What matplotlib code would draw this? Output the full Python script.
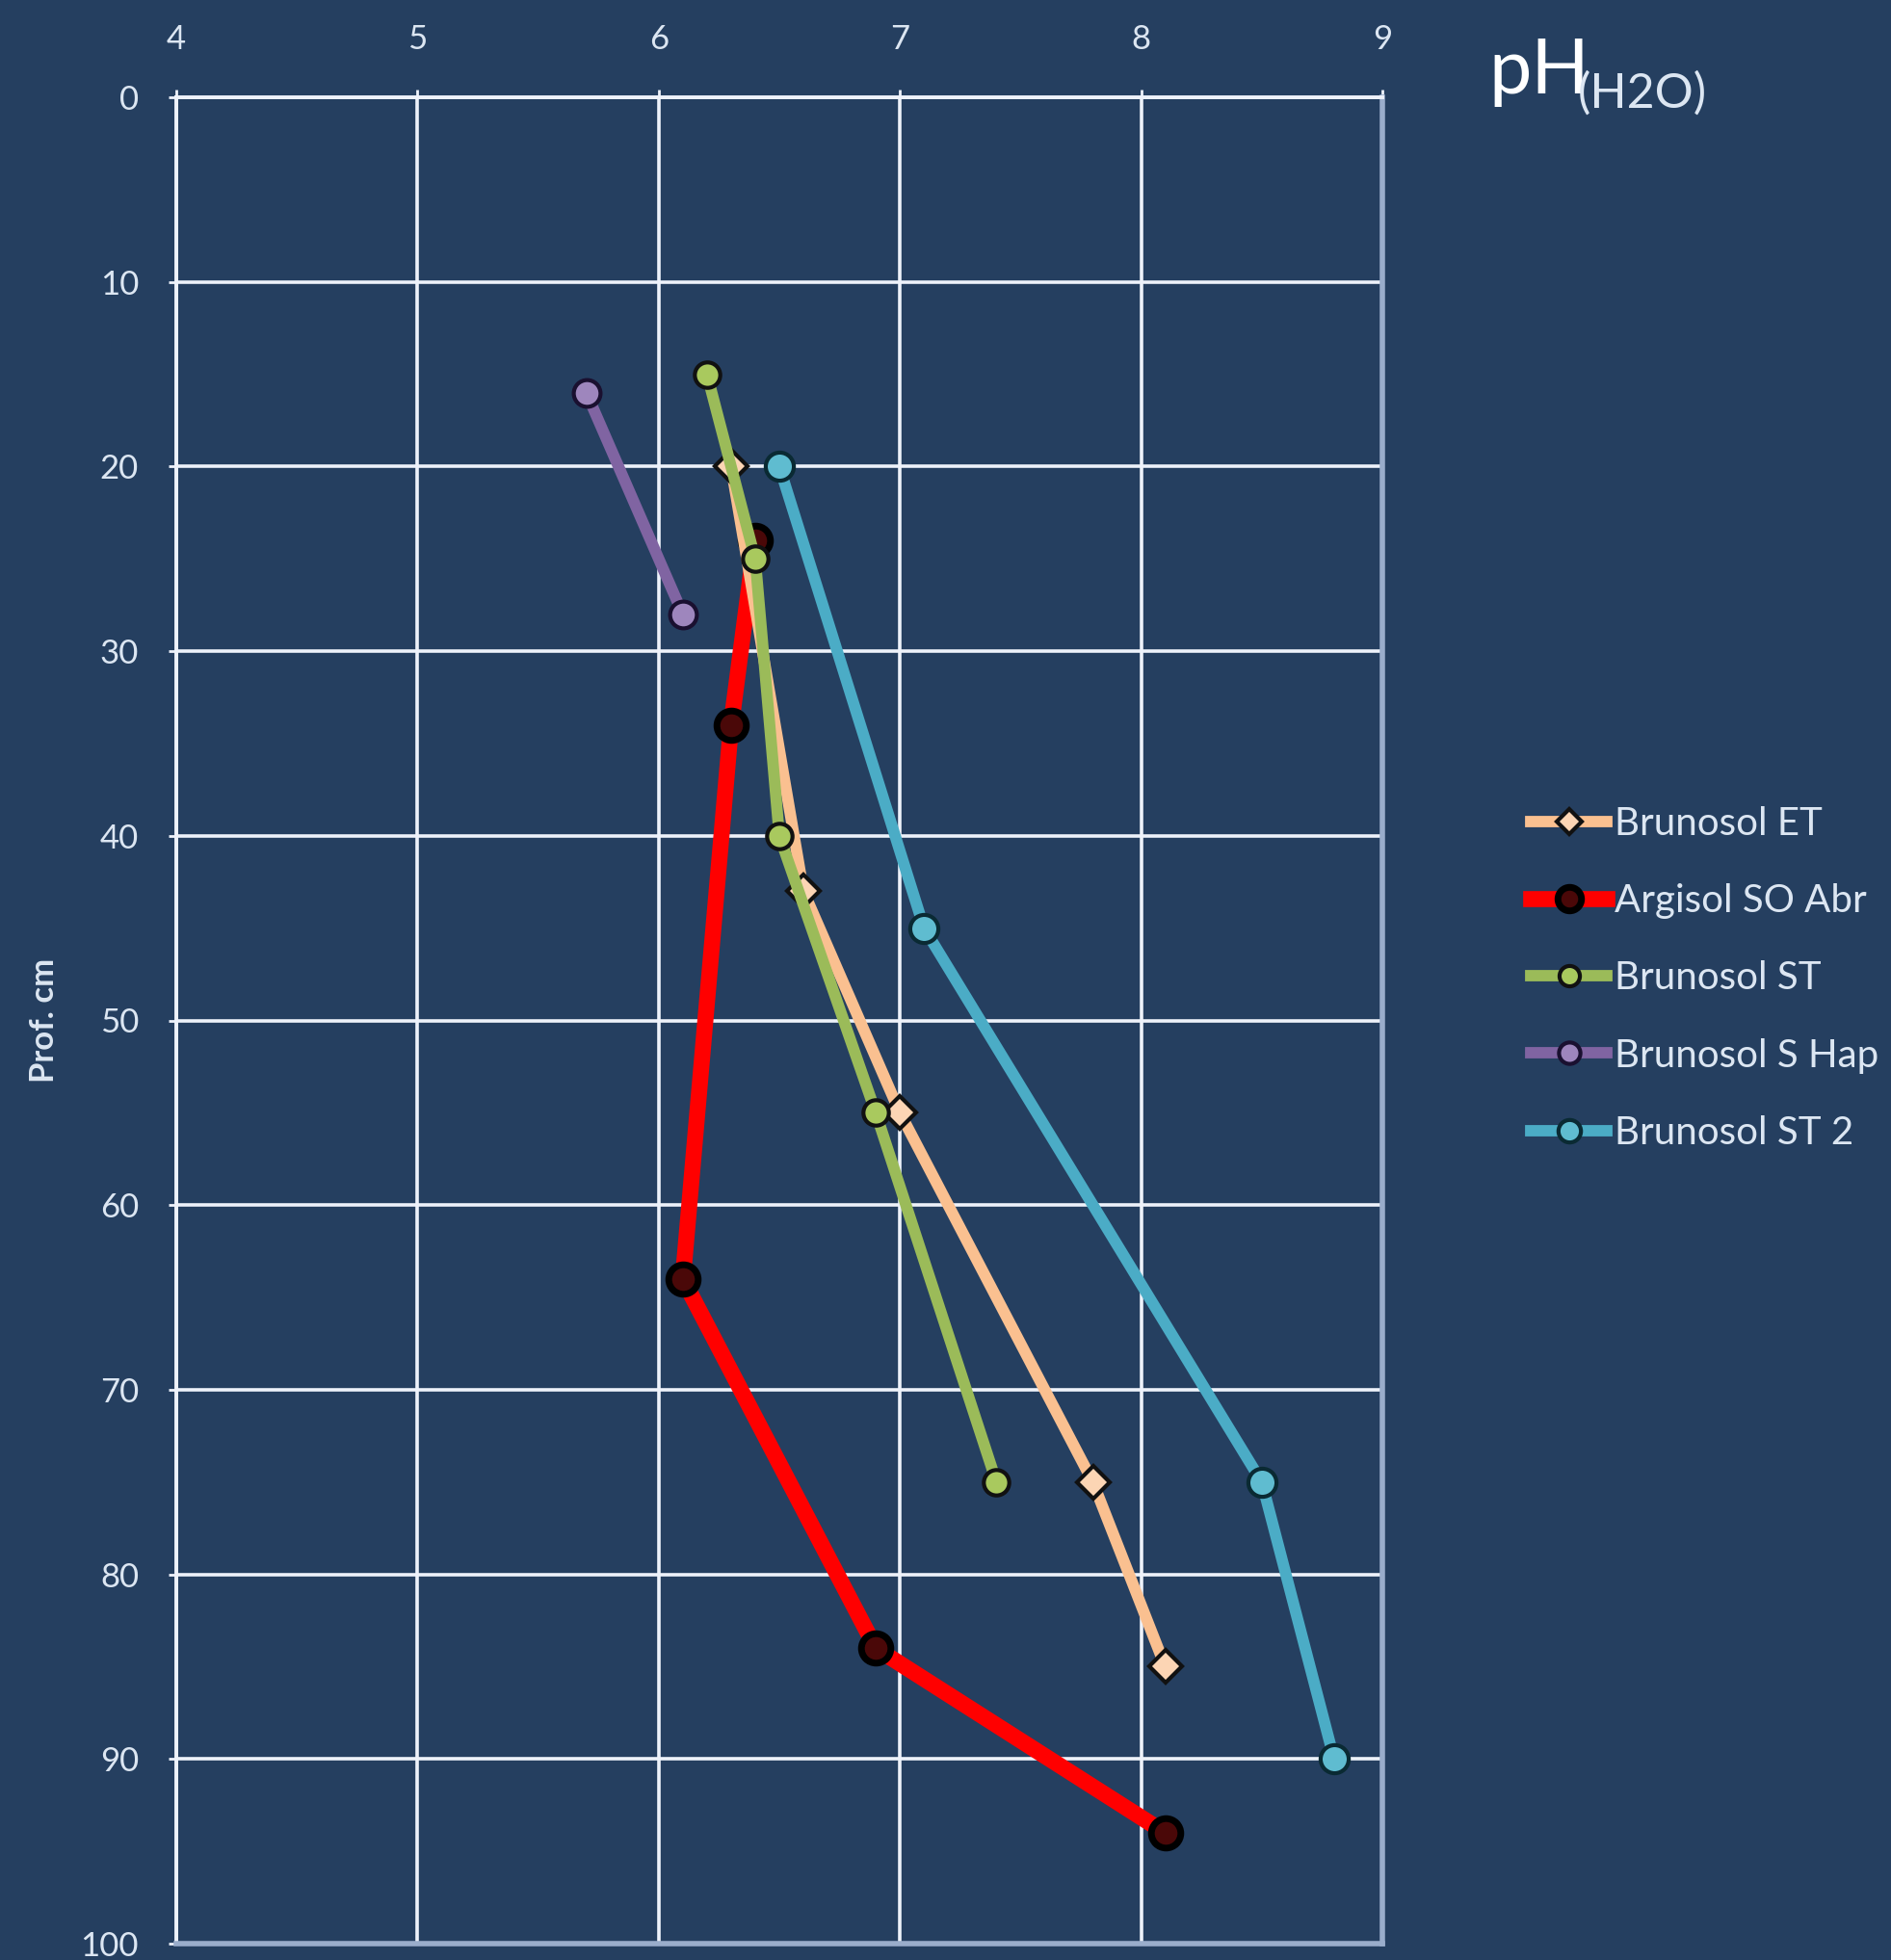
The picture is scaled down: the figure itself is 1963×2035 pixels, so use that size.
import numpy as np
import matplotlib
matplotlib.use("Agg")
import matplotlib.pyplot as plt

plt.rcParams['font.family'] = ['Lato', 'DejaVu Sans']

# soil profiles: pH (H2O) against depth (cm)
et_ph = [6.3, 6.6, 7.0, 7.8, 8.1]
et_depth = [20, 43, 55, 75, 85]

argisol_ph = [6.4, 6.3, 6.1, 6.9, 8.1]
argisol_depth = [24, 34, 64, 84, 94]

st_ph = [6.2, 6.4, 6.5, 6.9, 7.4]
st_depth = [15, 25, 40, 55, 75]

shap_ph = [5.7, 6.1]
shap_depth = [16, 28]

st2_ph = [6.5, 7.1, 8.5, 8.8]
st2_depth = [20, 45, 75, 90]

labels = ['Brunosol ET', 'Argisol SO Abr', 'Brunosol ST', 'Brunosol S Hap', 'Brunosol ST 2']
x_ticks = [4, 5, 6, 7, 8, 9]
y_ticks = [0, 10, 20, 30, 40, 50, 60, 70, 80, 90, 100]

bg = '#253f60'
txt = '#dce6f2'

W, H = 1963, 2035
fig = plt.figure(figsize=(W / 100, H / 100), dpi=100, facecolor=bg)
ax = fig.add_axes([183 / W, 1 - 2018 / H, (1435 - 183) / W, (2018 - 101) / H])
ax.set_facecolor(bg)

ax.set_xlim(4, 9)
ax.set_ylim(100, 0)
ax.set_xticks(x_ticks)
ax.set_yticks(y_ticks)
ax.xaxis.tick_top()
ax.grid(True, color='#eef2fa', linewidth=2.6)
ax.set_axisbelow(True)
ax.tick_params(axis='both', colors='#eef2fa', labelcolor=txt, labelsize=25,
               length=6, width=2, direction='out')
ax.tick_params(axis='y', pad=22)
ax.tick_params(axis='x', pad=26)
for side in ['left', 'top']:
    ax.spines[side].set_color('#eef2fa')
    ax.spines[side].set_linewidth(2.8)
for side in ['right', 'bottom']:
    ax.spines[side].set_color('#9aadcb')
    ax.spines[side].set_linewidth(4)

ax.plot(et_ph, et_depth, color='#fac090', lw=8.5, marker='D', ms=17,
        mfc='#fcd5b4', mec='#111111', mew=3, label=labels[0], zorder=3)
ax.plot(argisol_ph, argisol_depth, color='#ff0000', lw=12, marker='o', ms=22,
        mfc='#4a0808', mec='#000000', mew=5, label=labels[1], zorder=2)
ax.plot(st_ph, st_depth, color='#9bbb59', lw=8.5, marker='o', ms=19,
        mfc='#a9c95e', mec='#111111', mew=3, label=labels[2], zorder=4)
ax.plot(shap_ph, shap_depth, color='#8064a2', lw=8.5, marker='o', ms=20,
        mfc='#9e86bd', mec='#1a1030', mew=3, label=labels[3], zorder=3)
ax.plot(st2_ph, st2_depth, color='#4bacc6', lw=8.5, marker='o', ms=21,
        mfc='#5fbcd0', mec='#0a2a33', mew=3, label=labels[4], zorder=3)

ax.set_ylabel('Prof. cm', color=txt, fontsize=25, fontweight='bold')
ax.yaxis.set_label_coords(-0.097, 0.5)

fig.text(1545 / W, 1 - 97 / H, 'pH', color='white', fontsize=57, va='baseline', ha='left')
fig.text(1638 / W, 1 - 112 / H, '(H2O)', color=txt, fontsize=36, va='baseline', ha='left')

leg = fig.legend(loc='upper left', bbox_to_anchor=(1553 / W, 1 - 801 / H), frameon=False,
                 fontsize=29, labelcolor=txt, handlelength=1.95, handletextpad=0.2,
                 labelspacing=1.07, markerscale=0.8)

fig.savefig('out.png', dpi=100, facecolor=bg)
